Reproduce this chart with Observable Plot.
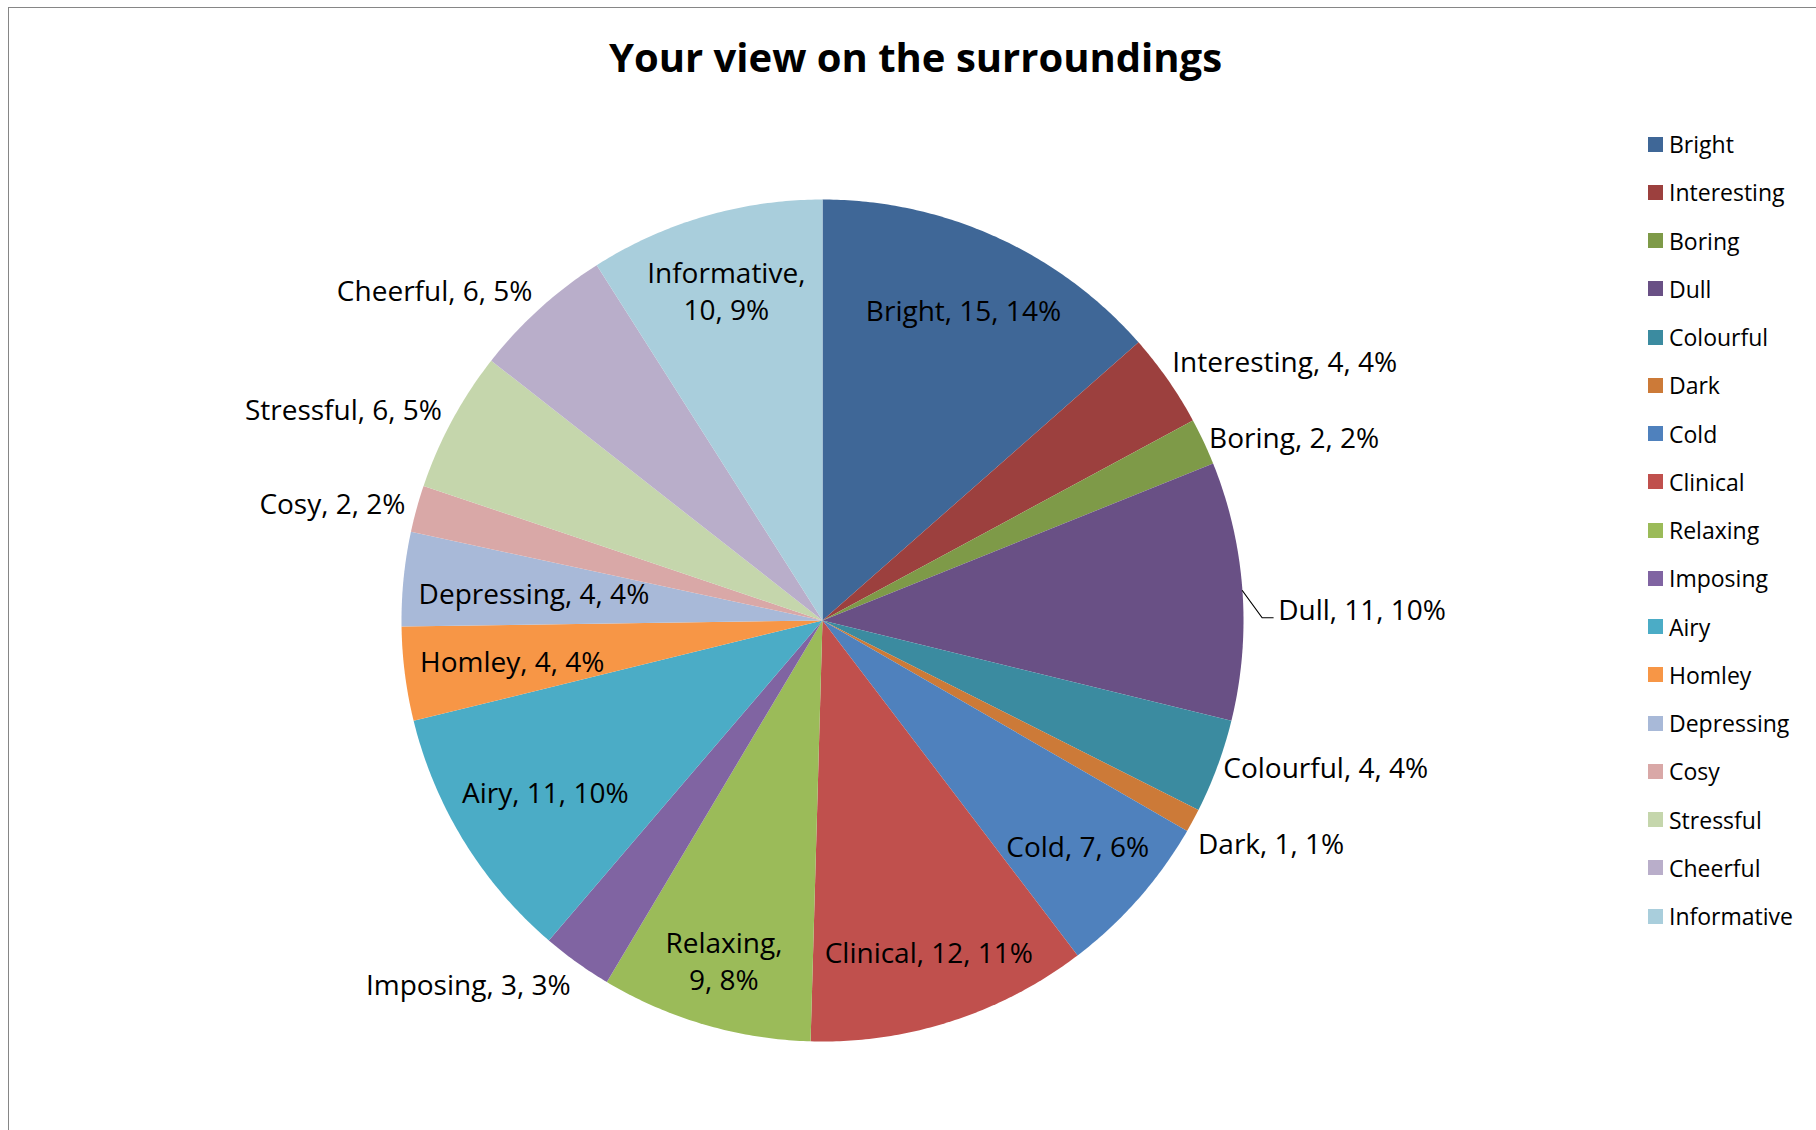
<!DOCTYPE html>
<html>
<head>
<meta charset="utf-8">
<script src="https://cdn.jsdelivr.net/npm/d3@7"></script>
<script src="https://cdn.jsdelivr.net/npm/@observablehq/plot@0.6"></script>
<style>
html, body { margin: 0; padding: 0; background: #fff; }
#page { position: relative; width: 1816px; height: 1130px; overflow: hidden; background: #fff; font-family: "Open Sans", sans-serif; }
#title { position: relative; height: 110px; }
#title div { position: absolute; left: 0; width: 1831px; top: 37px; text-align: center; font-weight: 700; font-size: 40px; line-height: 40px; color: #000; }
#frame { position: absolute; left: 8px; top: 7px; width: 1900px; height: 1200px; border-left: 1.5px solid #868686; border-top: 1.5px solid #868686; pointer-events: none; }
#legend { position: absolute; left: 1648px; top: 120px; }
.lg-swatches { font-family: "Open Sans", sans-serif !important; font-size: 23px !important; margin: 0 !important; color: #000; }
.lg-swatch { height: 48.25px; padding: 0 !important; display: flex; align-items: center; }
.lg-swatch > svg { margin-right: 6px !important; }
.lg-swatch-label { overflow: visible !important; }
</style>
</head>
<body>
<div id="page">
  <div id="title"><div>Your view on the surroundings</div></div>
  <div id="chart"></div>
  <div id="legend"></div>
  <div id="frame"></div>
</div>
<script>
// ---- data ----
const categories = ["Bright","Interesting","Boring","Dull","Colourful","Dark","Cold","Clinical","Relaxing","Imposing","Airy","Homley","Depressing","Cosy","Stressful","Cheerful","Informative"];
const counts = [15, 4, 2, 11, 4, 1, 7, 12, 9, 3, 11, 4, 4, 2, 6, 6, 10];
const colors = ["#3F6797","#9C403E","#7E9A48","#695085","#3B8BA0","#CC7A38","#4F81BD","#C0504D","#9BBB59","#8064A2","#4BACC6","#F79646","#A8B9D8","#D9A8A7","#C5D6AC","#B9AECA","#A9CEDC"];

// ---- layout ----
const W = 1816, H = 1020, TOP = 110;
const CX = 822, CY = 620, R = 421;
const FS = 28, LH = 1.33;

const insideSet = new Set(["Bright","Cold","Clinical","Relaxing","Airy","Homley","Depressing","Informative"]);
const wrapSet = new Set(["Relaxing","Informative"]);
const leaderSet = new Set(["Dull"]);

const total = d3.sum(counts);
let cum = 0;
const slices = categories.map((name, i) => {
  const a0 = cum / total * 2 * Math.PI;
  cum += counts[i];
  const a1 = cum / total * 2 * Math.PI;
  const pct = Math.round(counts[i] / total * 100);
  const label = wrapSet.has(name) ? `${name},\n${counts[i]}, ${pct}%` : `${name}, ${counts[i]}, ${pct}%`;
  return {name, value: counts[i], a0, a1, mid: (a0 + a1) / 2, label};
});

// slice polygons (clockwise from 12 o'clock)
const polyPts = slices.flatMap(s => {
  const n = Math.max(2, Math.ceil((s.a1 - s.a0) / (Math.PI / 360)));
  const pts = [{name: s.name, x: 0, y: 0}];
  for (let k = 0; k <= n; k++) {
    const a = s.a0 + (s.a1 - s.a0) * k / n;
    pts.push({name: s.name, x: Math.sin(a), y: Math.cos(a)});
  }
  pts.push({name: s.name, x: 0, y: 0});
  return pts;
});

// text measurement
const ctx = document.createElement("canvas").getContext("2d");
ctx.font = `${FS}px "Open Sans"`;
function textBox(label) {
  const lines = label.split("\n");
  const w = d3.max(lines, l => ctx.measureText(l).width);
  const h = FS * 1.24 + (lines.length - 1) * FS * LH;
  return [w / 2, h / 2];
}
// inside "best fit": outer corner of label box sits at 0.9656 R
function insideCenter(mid, label) {
  const ux = Math.sin(mid), uy = -Math.cos(mid);
  const [hw, hh] = textBox(label);
  const target = 0.9656 * R;
  let lo = 0, hi = R;
  for (let it = 0; it < 50; it++) {
    const d = (lo + hi) / 2;
    const f = Math.hypot(d * ux + Math.sign(ux) * hw, d * uy + Math.sign(uy) * hh);
    if (f > target) hi = d; else lo = d;
  }
  const d = (lo + hi) / 2;
  return {x: d * ux / R, y: -d * uy / R};
}

const inside = [], right = [], left = [], lead = [], leaderPts = [];
for (const s of slices) {
  const sx = Math.sin(s.mid), cy = Math.cos(s.mid);
  if (insideSet.has(s.name)) {
    inside.push({label: s.label, ...insideCenter(s.mid, s.label)});
  } else if (leaderSet.has(s.name)) {
    const lx = 1.085 * sx, ly = cy - 17 / R;
    lead.push({label: s.label, x: lx, y: ly});
    leaderPts.push({k: s.name, x: sx, y: cy});
    leaderPts.push({k: s.name, x: lx - 16 / R, y: ly - 10 / R});
    leaderPts.push({k: s.name, x: lx - 5 / R, y: ly - 10 / R});
  } else {
    const d = {label: s.label, x: 1.03 * sx, y: 1.03 * cy + cy * 13 / R};
    (sx >= 0 ? right : left).push(d);
  }
}
// spread neighbouring outside labels apart
function spread(arr) {
  const minGap = 76 / R;
  const sorted = arr.slice().sort((a, b) => b.y - a.y);
  for (let i = 1; i < sorted.length; i++) {
    const gap = sorted[i - 1].y - sorted[i].y;
    if (gap < minGap) {
      const push = (minGap - gap) / 2;
      sorted[i - 1].y += push;
      sorted[i].y -= push;
    }
  }
}
spread(right); spread(left);

const textOpts = {x: "x", y: "y", text: "label", fontSize: FS, lineHeight: LH, fill: "#000", fontFamily: "Open Sans"};

const chart = Plot.plot({
  width: W, height: H, margin: 0,
  style: {background: "transparent", fontFamily: "Open Sans", overflow: "visible"},
  x: {domain: [-CX / R, (W - CX) / R], axis: null},
  y: {domain: [-(H - (CY - TOP)) / R, (CY - TOP) / R], axis: null},
  color: {domain: categories, range: colors},
  marks: [
    Plot.line(polyPts, {x: "x", y: "y", z: "name", fill: "name", stroke: "none", curve: "linear"}),
    Plot.line(leaderPts, {x: "x", y: "y", z: "k", stroke: "#000", strokeWidth: 1.2, curve: "linear"}),
    Plot.text(inside, {...textOpts}),
    Plot.text(right, {...textOpts, textAnchor: "start", dx: -6}),
    Plot.text(left, {...textOpts, textAnchor: "end", dx: 1}),
    Plot.text(lead, {...textOpts, textAnchor: "start"})
  ]
});
document.getElementById("chart").appendChild(chart);

const legend = Plot.legend({
  color: {domain: categories, range: colors, type: "ordinal"},
  legend: "swatches",
  columns: 1,
  swatchSize: 15,
  className: "lg"
});
document.getElementById("legend").appendChild(legend);
</script>
</body>
</html>
